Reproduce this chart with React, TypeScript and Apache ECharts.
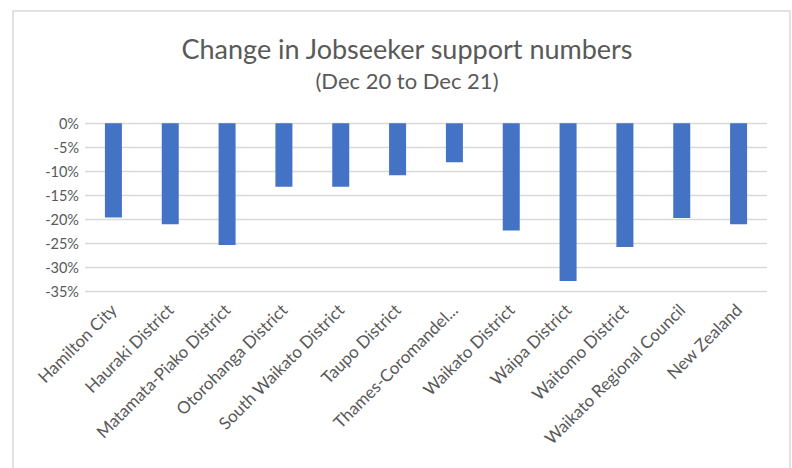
import React, { useEffect, useRef } from "react";
import * as echarts from "echarts";

const categories = [
  "Hamilton City",
  "Hauraki District",
  "Matamata-Piako District",
  "Otorohanga District",
  "South Waikato District",
  "Taupo District",
  "Thames-Coromandel...",
  "Waikato District",
  "Waipa District",
  "Waitomo District",
  "Waikato Regional Council",
  "New Zealand",
];
const changeValues = [-19.6, -21.0, -25.3, -13.2, -13.2, -10.8, -8.1, -22.3, -32.8, -25.7, -19.7, -21.0];
const titleText = "Change in Jobseeker support numbers";
const subtitleText = "(Dec 20 to Dec 21)";

const FONT = "Lato, 'Noto Sans', sans-serif";

export default function App() {
  const ref = useRef<HTMLDivElement>(null);
  useEffect(() => {
    if (!ref.current) return;
    const chart = echarts.init(ref.current, null, { renderer: "svg" });
    chart.setOption({
      animation: false,
      backgroundColor: "#ffffff",
      graphic: [
        {
          type: "rect",
          shape: { x: 13, y: 11, width: 777, height: 470 },
          style: { fill: "none", stroke: "#d9d9d9", lineWidth: 1.5 },
          z: -1,
        },
      ],
      title: {
        text: titleText,
        subtext: subtitleText,
        left: 402,
        textAlign: "center",
        top: 30,
        itemGap: 7,
        textStyle: { fontFamily: FONT, fontSize: 27, fontWeight: "normal", color: "#595959" },
        subtextStyle: { fontFamily: FONT, fontSize: 22, color: "#595959" },
      },
      grid: {
        left: 85,
        right: 25,
        top: 123.3,
        bottom: 176.3,
        containLabel: false,
        outerBoundsMode: "none",
      },
      xAxis: {
        type: "category",
        data: categories,
        axisLine: { show: false },
        axisTick: { show: false },
        axisLabel: {
          rotate: 45,
          interval: 0,
          margin: 15,
          fontFamily: FONT,
          fontSize: 17,
          color: "#595959",
        },
      },
      yAxis: {
        type: "value",
        min: -35,
        max: 0,
        interval: 5,
        axisLine: { show: false },
        axisTick: { show: false },
        splitLine: { lineStyle: { color: "#d9d9d9", width: 1.3 } },
        axisLabel: {
          formatter: (v: number) => `${v}%`,
          fontFamily: FONT,
          fontSize: 14.5,
          color: "#595959",
          margin: 6,
        },
      },
      series: [
        {
          type: "bar",
          data: changeValues,
          barWidth: 17,
          itemStyle: { color: "#4472C4" },
        },
      ],
    });
    return () => chart.dispose();
  }, []);
  return (
    <div
      ref={ref}
      style={{ position: "fixed", left: 0, top: 0, width: 792, height: 468 }}
    />
  );
}
